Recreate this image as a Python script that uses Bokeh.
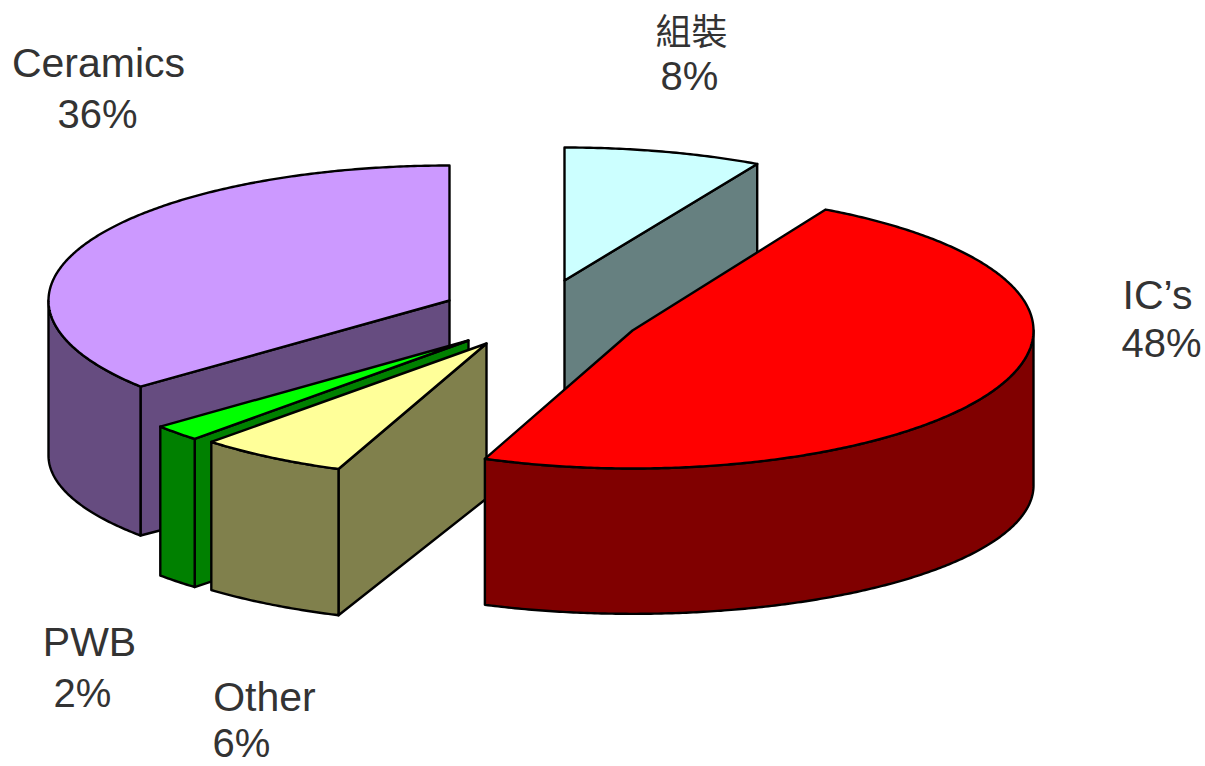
import numpy as np
from bokeh.core.properties import value
from bokeh.embed import file_html
from bokeh.models import Range1d
from bokeh.plotting import figure
from bokeh.resources import INLINE

# Slices in clockwise order, starting from twelve o'clock
names = ["組裝", "IC’s", "Other", "PWB", "Ceramics"]
shares = [8, 48, 6, 2, 36]
top_colors = ["#CCFFFF", "#FF0000", "#FFFF99", "#00FF00", "#CC99FF"]
side_colors = ["#668080", "#800000", "#80804C", "#008000", "#664C80"]

# Exploded position of each slice's apex and its ellipse radii
apex_x = [564, 632, 486, 468, 449]
apex_y = [280, 330, 343, 340, 300]
radius_x = [400, 401, 402, 400, 401]
radius_y = [133, 138, 135, 135, 135]
depth = 155
base_squash = 0.93

# Label lines: name and percentage, each with its own centre
name_x = [691, 1157, 264, 89, 98]
name_y = [28, 294, 696, 641, 62]
pct_x = [689, 1161, 241, 82, 97]
pct_y = [75, 342, 742, 692, 113]
cjk_names = {"組裝"}

draw_order = [0, 4, 3, 2, 1]

p = figure(
    width=1205, height=766, output_backend="svg", toolbar_location=None,
    x_range=Range1d(0, 1205), y_range=Range1d(766, 0),
    min_border=0, outline_line_color=None, background_fill_color="white",
    border_fill_color="white",
)
p.axis.visible = False
p.grid.visible = False

edges = np.cumsum([0] + shares) * 3.6


def rim(i, a0, a1, drop=0.0, squash=1.0):
    """Points on a slice's rim between two clockwise angles in degrees."""
    t = np.radians(np.linspace(a0, a1, max(int(abs(a1 - a0)) * 2, 2)))
    xs = apex_x[i] + radius_x[i] * np.sin(t)
    ys = apex_y[i] + drop - radius_y[i] * squash * np.cos(t)
    return xs, ys


def wall(i, xs, ys):
    """Fill one side face with the slice's darker shade."""
    p.patch(list(xs), list(ys), fill_color=side_colors[i],
            line_color="#000000", line_width=2.4, line_join="round")


def radial_wall(i, angle):
    x1, y1 = rim(i, angle, angle)
    x2, y2 = rim(i, angle, angle, depth, base_squash)
    wall(i, [apex_x[i], x1[0], x2[0], apex_x[i]],
         [apex_y[i], y1[0], y2[0], apex_y[i] + depth])


for i in draw_order:
    a0, a1 = edges[i], edges[i + 1]

    # Flat faces along the cuts, only where they turn towards the viewer
    if 180 < a0 < 360:
        radial_wall(i, a0)
    if 0 < a1 < 180:
        radial_wall(i, a1)

    # Curved outer face: the front half of the rim
    lo, hi = max(a0, 90), min(a1, 270)
    if lo < hi:
        tx, ty = rim(i, lo, hi)
        bx, by = rim(i, lo, hi, depth, base_squash)
        wall(i, np.r_[tx, bx[::-1]], np.r_[ty, by[::-1]])

    # Top face
    tx, ty = rim(i, a0, a1)
    p.patch(list(np.r_[apex_x[i], tx]), list(np.r_[apex_y[i], ty]),
            fill_color=top_colors[i], line_color="#000000", line_width=2.4,
            line_join="round")

for i, name in enumerate(names):
    font = "Noto Sans CJK TC" if name in cjk_names else "Liberation Sans"
    size = "36px" if name in cjk_names else "41px"
    p.text([name_x[i]], [name_y[i]], text=[name], text_font=value(font),
           text_font_size=size, text_color="#333333", text_align="center",
           text_baseline="middle")
    p.text([pct_x[i]], [pct_y[i]], text=[f"{shares[i]}%"],
           text_font=value("Liberation Sans"), text_font_size="40px",
           text_color="#333333", text_align="center", text_baseline="middle")

open("out.html", "w").write(file_html(p, INLINE))
